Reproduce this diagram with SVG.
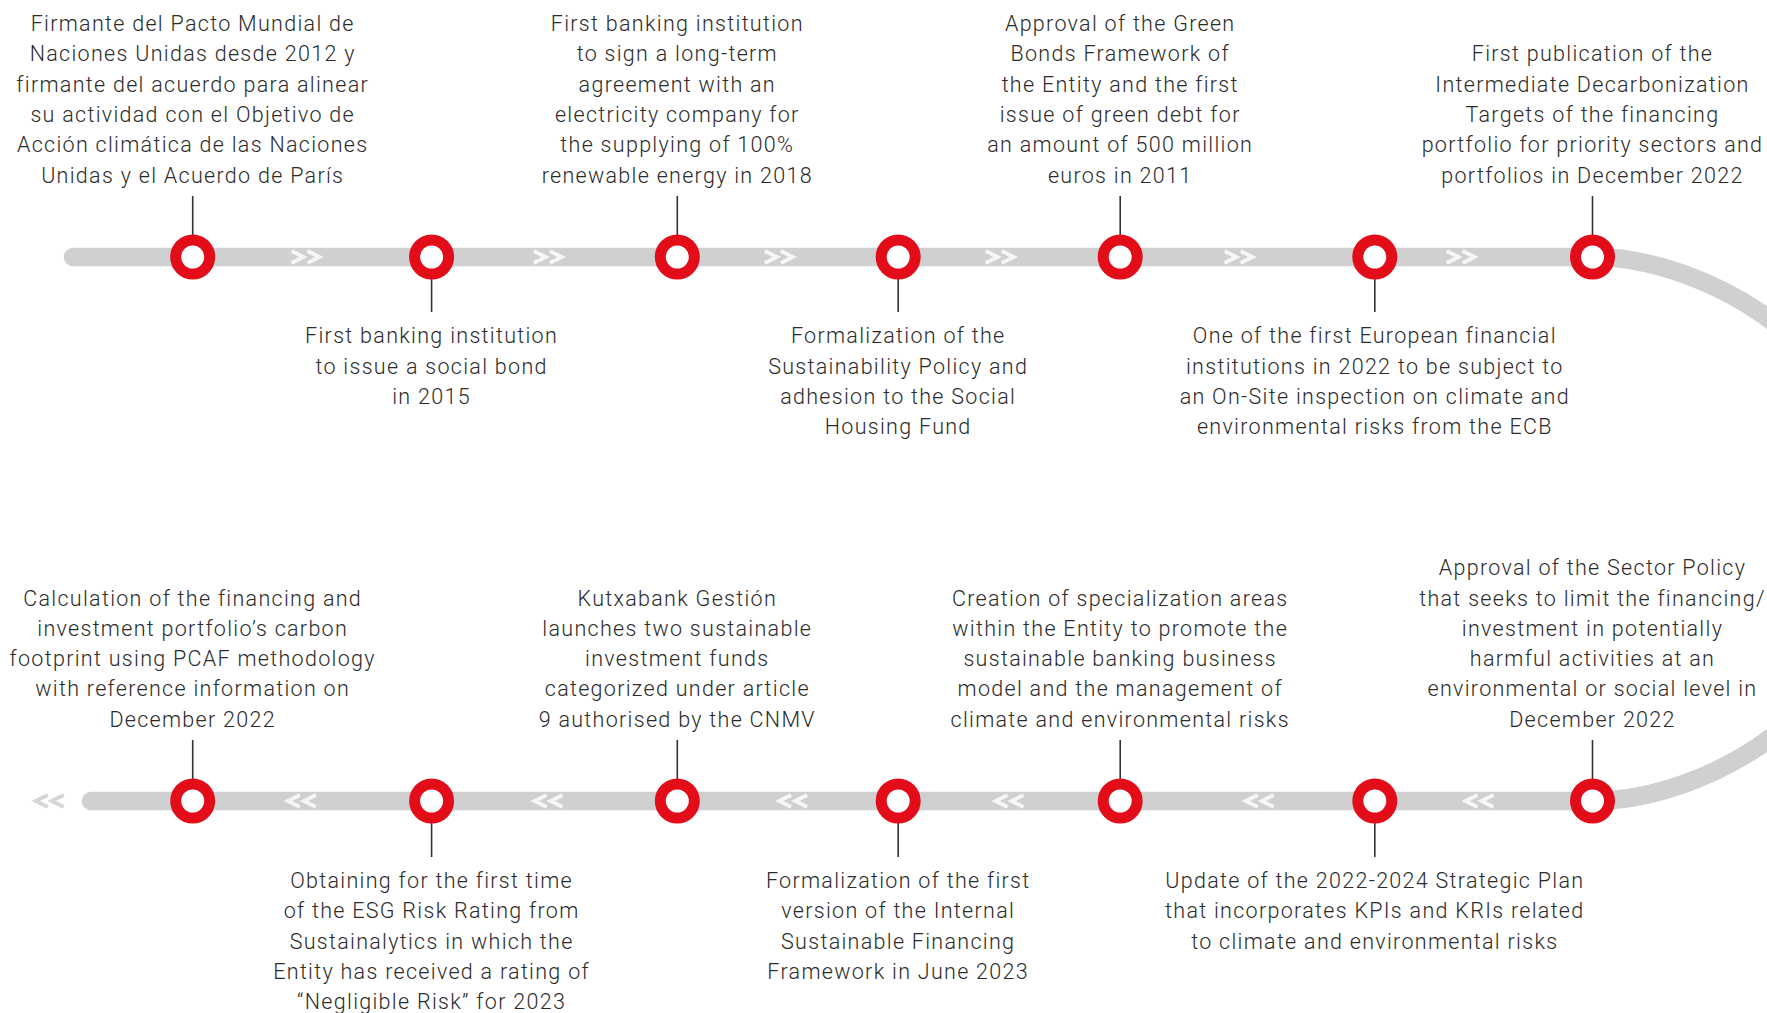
<svg xmlns="http://www.w3.org/2000/svg" width="1767" height="1013" viewBox="0 0 1767 1013">
<style>
text{font-family:Roboto,"Liberation Sans",sans-serif;font-size:21.5px;font-weight:300;letter-spacing:1.3px;fill:#2b2b2b;text-anchor:middle}
.ring{fill:#ffffff;stroke:#e30d1a;stroke-width:11}
.stem{stroke:#333333;stroke-width:1.6}
.track{fill:none;stroke:#d0d0d0;stroke-width:18.5;stroke-linecap:round}
.chev{fill:none;stroke:#f6f6f6;stroke-width:3.8}
.chevout{fill:none;stroke:#d6d6d6;stroke-width:3.8}
</style>
<defs>
<path id="chevR" d="M-15,-6 L-3,0 L-15,6 M1,-6 L13,0 L1,6"/>
<path id="chevL" d="M15,-6 L3,0 L15,6 M-1,-6 L-13,0 L-1,6"/>
</defs>
<rect width="1767" height="1013" fill="#ffffff"/>
<g id="connectors">
<path class="track" d="M73,257 H1593 C1703,257 1880,349 1880,529 C1880,709 1703,801 1593,801 H91"/>
<g class="chev">
<use href="#chevR" x="306.5" y="257"/>
<use href="#chevR" x="548.8" y="257"/>
<use href="#chevR" x="779.8" y="257"/>
<use href="#chevR" x="1000.7" y="257"/>
<use href="#chevR" x="1239.5" y="257"/>
<use href="#chevR" x="1461.6" y="257"/>
<use href="#chevL" x="300.9" y="801"/>
<use href="#chevL" x="547.7" y="801"/>
<use href="#chevL" x="792.2" y="801"/>
<use href="#chevL" x="1008.6" y="801"/>
<use href="#chevL" x="1258.8" y="801"/>
<use href="#chevL" x="1478.5" y="801"/>
</g>
<use class="chevout" href="#chevL" x="48.8" y="801"/>
</g>
<g id="n1">
<line class="stem" x1="192.7" y1="196" x2="192.7" y2="240"/>
<circle class="ring" cx="192.7" cy="257" r="17"/>
<text x="192.7" y="31">Firmante del Pacto Mundial de</text>
<text x="192.7" y="61.3">Naciones Unidas desde 2012 y</text>
<text x="192.7" y="91.6">firmante del acuerdo para alinear</text>
<text x="192.7" y="121.9">su actividad con el Objetivo de</text>
<text x="192.7" y="152.2">Acción climática de las Naciones</text>
<text x="192.7" y="182.5">Unidas y el Acuerdo de París</text>
</g>
<g id="n2">
<line class="stem" x1="431.6" y1="274" x2="431.6" y2="312"/>
<circle class="ring" cx="431.6" cy="257" r="17"/>
<text x="431.6" y="343.3">First banking institution</text>
<text x="431.6" y="373.6">to issue a social bond</text>
<text x="431.6" y="403.9">in 2015</text>
</g>
<g id="n3">
<line class="stem" x1="677.3" y1="196" x2="677.3" y2="240"/>
<circle class="ring" cx="677.3" cy="257" r="17"/>
<text x="677.3" y="31">First banking institution</text>
<text x="677.3" y="61.3">to sign a long-term</text>
<text x="677.3" y="91.6">agreement with an</text>
<text x="677.3" y="121.9">electricity company for</text>
<text x="677.3" y="152.2">the supplying of 100%</text>
<text x="677.3" y="182.5">renewable energy in 2018</text>
</g>
<g id="n4">
<line class="stem" x1="898.2" y1="274" x2="898.2" y2="312"/>
<circle class="ring" cx="898.2" cy="257" r="17"/>
<text x="898.2" y="343.3">Formalization of the</text>
<text x="898.2" y="373.6">Sustainability Policy and</text>
<text x="898.2" y="403.9">adhesion to the Social</text>
<text x="898.2" y="434.2">Housing Fund</text>
</g>
<g id="n5">
<line class="stem" x1="1120.2" y1="196" x2="1120.2" y2="240"/>
<circle class="ring" cx="1120.2" cy="257" r="17"/>
<text x="1120.2" y="31">Approval of the Green</text>
<text x="1120.2" y="61.3">Bonds Framework of</text>
<text x="1120.2" y="91.6">the Entity and the first</text>
<text x="1120.2" y="121.9">issue of green debt for</text>
<text x="1120.2" y="152.2">an amount of 500 million</text>
<text x="1120.2" y="182.5">euros in 2011</text>
</g>
<g id="n6">
<line class="stem" x1="1374.8" y1="274" x2="1374.8" y2="312"/>
<circle class="ring" cx="1374.8" cy="257" r="17"/>
<text x="1374.8" y="343.3">One of the first European financial</text>
<text x="1374.8" y="373.6">institutions in 2022 to be subject to</text>
<text x="1374.8" y="403.9">an On-Site inspection on climate and</text>
<text x="1374.8" y="434.2">environmental risks from the ECB</text>
</g>
<g id="n7">
<line class="stem" x1="1592.5" y1="196" x2="1592.5" y2="240"/>
<circle class="ring" cx="1592.5" cy="257" r="17"/>
<text x="1592.5" y="61.3">First publication of the</text>
<text x="1592.5" y="91.6">Intermediate Decarbonization</text>
<text x="1592.5" y="121.9">Targets of the financing</text>
<text x="1592.5" y="152.2">portfolio for priority sectors and</text>
<text x="1592.5" y="182.5">portfolios in December 2022</text>
</g>
<g id="n8">
<line class="stem" x1="1592.5" y1="740" x2="1592.5" y2="784"/>
<circle class="ring" cx="1592.5" cy="801" r="17"/>
<text x="1592.5" y="575.2">Approval of the Sector Policy</text>
<text x="1592.5" y="605.5">that seeks to limit the financing/</text>
<text x="1592.5" y="635.8">investment in potentially</text>
<text x="1592.5" y="666.1">harmful activities at an</text>
<text x="1592.5" y="696.4">environmental or social level in</text>
<text x="1592.5" y="726.7">December 2022</text>
</g>
<g id="n9">
<line class="stem" x1="1374.8" y1="818" x2="1374.8" y2="857"/>
<circle class="ring" cx="1374.8" cy="801" r="17"/>
<text x="1374.8" y="888">Update of the 2022-2024 Strategic Plan</text>
<text x="1374.8" y="918.3">that incorporates KPIs and KRIs related</text>
<text x="1374.8" y="948.6">to climate and environmental risks</text>
</g>
<g id="n10">
<line class="stem" x1="1120.2" y1="740" x2="1120.2" y2="784"/>
<circle class="ring" cx="1120.2" cy="801" r="17"/>
<text x="1120.2" y="605.5">Creation of specialization areas</text>
<text x="1120.2" y="635.8">within the Entity to promote the</text>
<text x="1120.2" y="666.1">sustainable banking business</text>
<text x="1120.2" y="696.4">model and the management of</text>
<text x="1120.2" y="726.7">climate and environmental risks</text>
</g>
<g id="n11">
<line class="stem" x1="898.2" y1="818" x2="898.2" y2="857"/>
<circle class="ring" cx="898.2" cy="801" r="17"/>
<text x="898.2" y="888">Formalization of the first</text>
<text x="898.2" y="918.3">version of the Internal</text>
<text x="898.2" y="948.6">Sustainable Financing</text>
<text x="898.2" y="978.9">Framework in June 2023</text>
</g>
<g id="n12">
<line class="stem" x1="677.3" y1="740" x2="677.3" y2="784"/>
<circle class="ring" cx="677.3" cy="801" r="17"/>
<text x="677.3" y="605.5">Kutxabank Gestión</text>
<text x="677.3" y="635.8">launches two sustainable</text>
<text x="677.3" y="666.1">investment funds</text>
<text x="677.3" y="696.4">categorized under article</text>
<text x="677.3" y="726.7">9 authorised by the CNMV</text>
</g>
<g id="n13">
<line class="stem" x1="431.6" y1="818" x2="431.6" y2="857"/>
<circle class="ring" cx="431.6" cy="801" r="17"/>
<text x="431.6" y="888">Obtaining for the first time</text>
<text x="431.6" y="918.3">of the ESG Risk Rating from</text>
<text x="431.6" y="948.6">Sustainalytics in which the</text>
<text x="431.6" y="978.9">Entity has received a rating of</text>
<text x="431.6" y="1009.2">“Negligible Risk” for 2023</text>
</g>
<g id="n14">
<line class="stem" x1="192.7" y1="740" x2="192.7" y2="784"/>
<circle class="ring" cx="192.7" cy="801" r="17"/>
<text x="192.7" y="605.5">Calculation of the financing and</text>
<text x="192.7" y="635.8">investment portfolio’s carbon</text>
<text x="192.7" y="666.1">footprint using PCAF methodology</text>
<text x="192.7" y="696.4">with reference information on</text>
<text x="192.7" y="726.7">December 2022</text>
</g>
</svg>
